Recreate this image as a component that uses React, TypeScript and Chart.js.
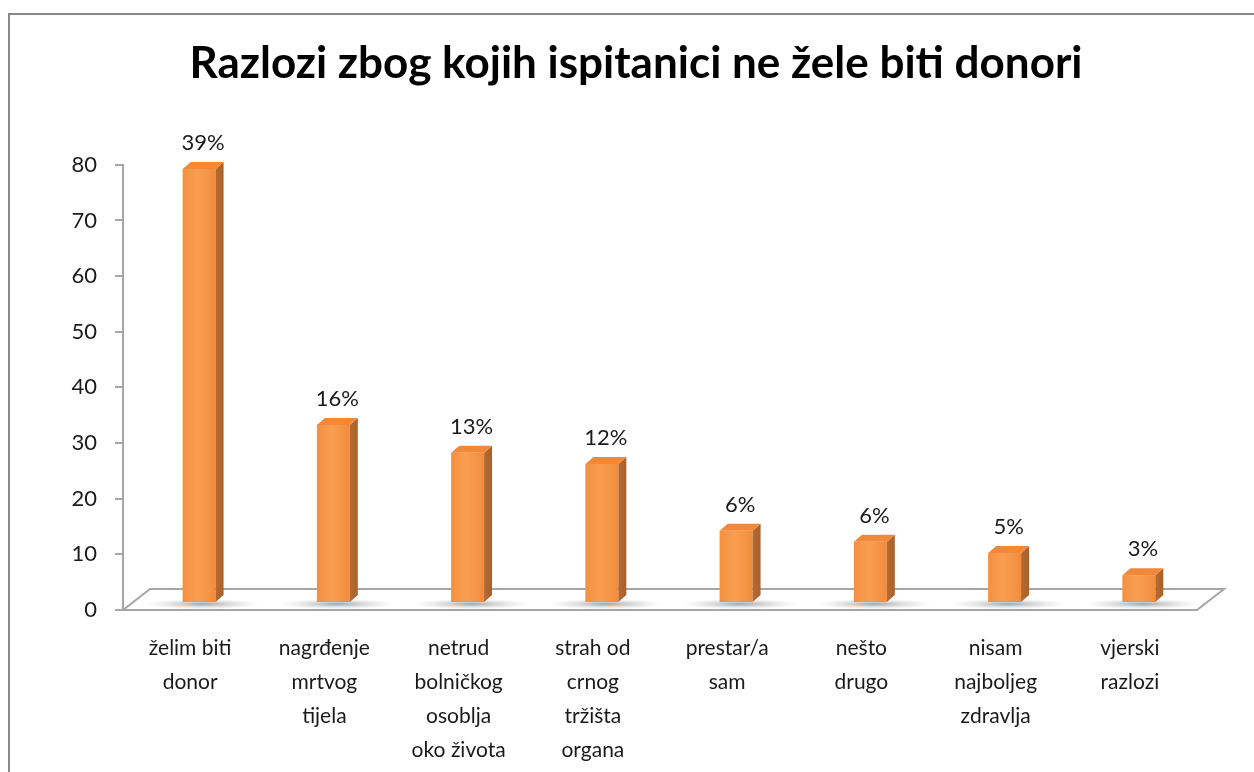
import React, { useEffect, useRef } from "react";
import { Chart, registerables } from "chart.js";

Chart.register(...registerables);

const chartTitle = "Razlozi zbog kojih ispitanici ne žele biti donori";
const categories: string[][] = [
  ["želim biti", "donor"],
  ["nagrđenje", "mrtvog", "tijela"],
  ["netrud", "bolničkog", "osoblja", "oko života"],
  ["strah od", "crnog", "tržišta", "organa"],
  ["prestar/a", "sam"],
  ["nešto", "drugo"],
  ["nisam", "najboljeg", "zdravlja"],
  ["vjerski", "razlozi"],
];
const counts: number[] = [78, 32, 27, 25, 13, 11, 9, 5];
const percentLabels: string[] = ["39%", "16%", "13%", "12%", "6%", "6%", "5%", "3%"];
const yMin = 0;
const yMax = 80;
const yStep = 10;

const FONT = "Lato, 'Open Sans', sans-serif";
const FRONT = "#F79646";
const SIDE = "#A9612B";
const TOP = "#F0893A";
const AXIS = "#A6A6A6";
const FRAME = "#888888";
// 3D depth offsets
const FLOOR_DX = 27;
const FLOOR_DY = -21;
const BAR_DX = 9;
const BAR_DY = -7;
const SIDE_DX = 8;
const SIDE_DY = -7;

const threeD = {
  id: "threeD",
  beforeDraw(chart: any) {
    const ctx = chart.ctx;
    ctx.save();
    ctx.strokeStyle = FRAME;
    ctx.lineWidth = 2;
    ctx.beginPath();
    ctx.moveTo(9, chart.height + 2);
    ctx.lineTo(9, 14);
    ctx.lineTo(chart.width + 2, 14);
    ctx.stroke();
    ctx.restore();
  },
  beforeDatasetsDraw(chart: any) {
    const ctx = chart.ctx;
    const y = chart.scales.y;
    const x = chart.scales.x;
    const base = y.getPixelForValue(0);
    const left = x.left;
    const right = x.right;
    ctx.save();
    // floor
    ctx.beginPath();
    ctx.moveTo(left, base);
    ctx.lineTo(left + FLOOR_DX, base + FLOOR_DY);
    ctx.lineTo(right + FLOOR_DX, base + FLOOR_DY);
    ctx.lineTo(right, base);
    ctx.closePath();
    ctx.fillStyle = "#ffffff";
    ctx.fill();
    ctx.strokeStyle = AXIS;
    ctx.lineWidth = 2;
    ctx.stroke();
    ctx.beginPath();
    ctx.moveTo(left - 8, base);
    ctx.lineTo(right, base);
    ctx.stroke();
    // shadows
    const meta = chart.getDatasetMeta(0);
    meta.data.forEach((el: any) => {
      const cx = el.x + BAR_DX + SIDE_DX / 2;
      const cy = base + BAR_DY + 1;
      ctx.save();
      ctx.translate(cx, cy);
      ctx.scale(1, 0.09);
      const g = ctx.createRadialGradient(0, 0, 0, 0, 0, 58);
      g.addColorStop(0, "rgba(90,90,90,0.55)");
      g.addColorStop(0.5, "rgba(120,120,120,0.25)");
      g.addColorStop(1, "rgba(160,160,160,0)");
      ctx.fillStyle = g;
      ctx.beginPath();
      ctx.arc(0, 0, 58, 0, Math.PI * 2);
      ctx.fill();
      ctx.restore();
    });
    ctx.restore();
    ctx.save();
    ctx.translate(BAR_DX, BAR_DY);
  },
  afterDatasetsDraw(chart: any) {
    const ctx = chart.ctx;
    const meta = chart.getDatasetMeta(0);
    meta.data.forEach((el: any) => {
      const p = el.getProps(["x", "y", "base", "width"], true);
      const l = p.x - p.width / 2;
      const r = p.x + p.width / 2;
      const t = p.y;
      const b = p.base;
      // side face
      ctx.beginPath();
      ctx.moveTo(r, t);
      ctx.lineTo(r + SIDE_DX, t + SIDE_DY);
      ctx.lineTo(r + SIDE_DX, b + SIDE_DY);
      ctx.lineTo(r, b);
      ctx.closePath();
      const gs = ctx.createLinearGradient(r, 0, r + SIDE_DX, 0);
      gs.addColorStop(0, "#B56A30");
      gs.addColorStop(1, SIDE);
      ctx.fillStyle = gs;
      ctx.fill();
      // top face
      ctx.beginPath();
      ctx.moveTo(l, t);
      ctx.lineTo(l + SIDE_DX, t + SIDE_DY);
      ctx.lineTo(r + SIDE_DX, t + SIDE_DY);
      ctx.lineTo(r, t);
      ctx.closePath();
      ctx.fillStyle = TOP;
      ctx.fill();
      // front face shading
      const gf = ctx.createLinearGradient(l, 0, r, 0);
      gf.addColorStop(0, "rgba(240,130,50,0.35)");
      gf.addColorStop(0.45, "rgba(255,180,110,0.25)");
      gf.addColorStop(1, "rgba(230,120,40,0.35)");
      ctx.fillStyle = gf;
      ctx.fillRect(l, t, r - l, b - t);
    });
    ctx.restore();
    // data labels
    ctx.save();
    ctx.fillStyle = "#1a1a1a";
    ctx.font = `22px ${FONT}`;
    ctx.textAlign = "center";
    ctx.textBaseline = "middle";
    meta.data.forEach((el: any, i: number) => {
      ctx.fillText(percentLabels[i], el.x + BAR_DX + SIDE_DX / 2, el.y + BAR_DY - 26);
    });
    ctx.restore();
  },
};

export default function App() {
  const ref = useRef<HTMLCanvasElement>(null);
  useEffect(() => {
    if (!ref.current) return;
    const chart = new Chart(ref.current, {
      type: "bar",
      data: {
        labels: categories,
        datasets: [
          {
            data: counts,
            backgroundColor: FRONT,
            borderWidth: 0,
            barPercentage: 0.245,
            categoryPercentage: 1,
            yAxisID: "y",
          },
        ],
      },
      options: {
        animation: false,
        responsive: false,
        maintainAspectRatio: false,
        layout: { padding: { left: 18, right: 0, top: 0, bottom: 0 } },
        plugins: {
          legend: { display: false },
          tooltip: { enabled: false },
          title: {
            display: true,
            text: chartTitle,
            color: "#000000",
            font: { family: FONT, size: 44, weight: "bold", lineHeight: 1.2 },
            padding: { top: 37, bottom: 75 },
          },
        },
        scales: {
          x: {
            grid: { display: false },
            border: { display: false },
            ticks: {
              color: "#1a1a1a",
              font: { family: FONT, size: 21, lineHeight: 1.62 },
              padding: 13,
              maxRotation: 0,
              minRotation: 0,
              autoSkip: false,
            },
            afterFit: (s: any) => {
              s.height = 162;
            },
          },
          y: {
            min: yMin,
            max: yMax,
            grid: {
              display: true,
              drawOnChartArea: false,
              drawTicks: true,
              tickLength: 8,
              color: AXIS,
              lineWidth: 2,
            },
            border: { display: true, color: AXIS, width: 2 },
            ticks: {
              stepSize: yStep,
              color: "#1a1a1a",
              font: { family: FONT, size: 22 },
              padding: 18,
            },
            afterFit: (s: any) => {
              s.width = 105;
            },
          },
          yRightSpace: {
            position: "right",
            display: true,
            grid: { display: false },
            border: { display: false },
            ticks: { display: false },
            afterFit: (s: any) => {
              s.width = 57;
            },
          },
        },
      },
      plugins: [threeD],
    });
    return () => chart.destroy();
  }, []);
  return (
    <div style={{ position: "fixed", left: 0, top: 0, width: 1254, height: 772, background: "#fff" }}>
      <canvas ref={ref} width={1254} height={772} style={{ width: 1254, height: 772, display: "block" }} />
    </div>
  );
}
